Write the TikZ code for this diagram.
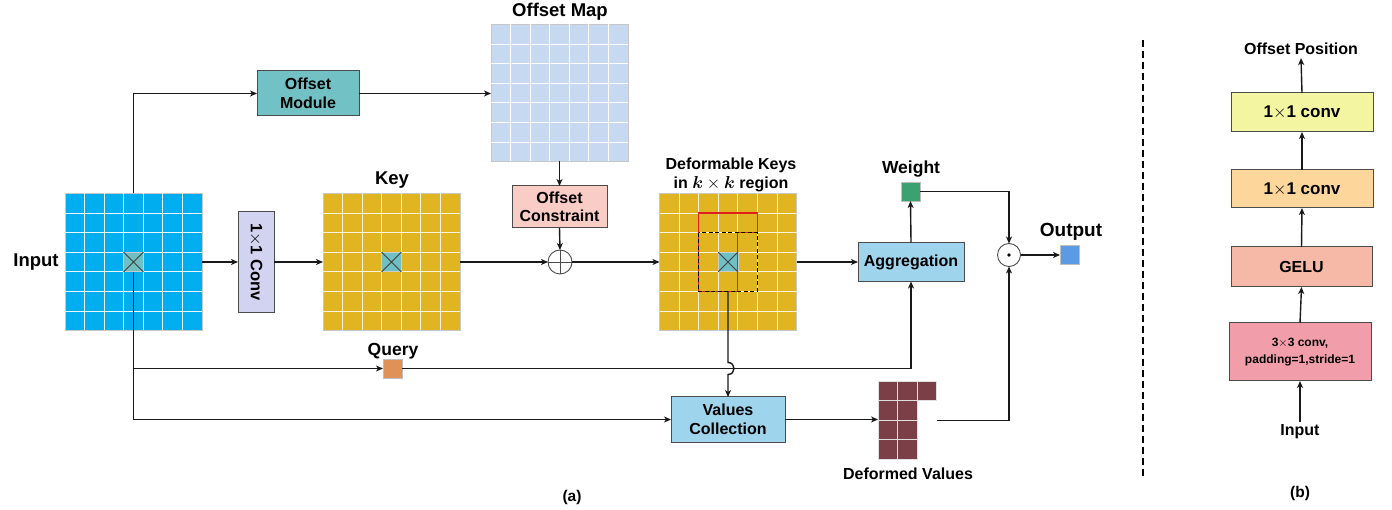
\documentclass[tikz,border=0pt]{standalone}
\usepackage{fontspec}
\setmainfont{Liberation Sans}
\usepackage{amsmath}
\usetikzlibrary{arrows.meta,calc}
\definecolor{cinput}{HTML}{00AEEF}
\definecolor{cteal}{HTML}{6FBFC3}
\definecolor{ckey}{HTML}{E1B421}
\definecolor{cmap}{HTML}{C6D9F1}
\definecolor{cmod}{HTML}{72C1C4}
\definecolor{ccon}{HTML}{F9CDC5}
\definecolor{cconv}{HTML}{D2D2F1}
\definecolor{cagg}{HTML}{9ED4EC}
\definecolor{cwgt}{HTML}{3AA26F}
\definecolor{cqry}{HTML}{DF9158}
\definecolor{cout}{HTML}{5B9BE6}
\definecolor{cdv}{HTML}{7B3F48}
\definecolor{cyone}{HTML}{F3F5A0}
\definecolor{cytwo}{HTML}{FDD69B}
\definecolor{cgelu}{HTML}{F6B9A7}
\definecolor{cpink}{HTML}{F29EAA}
\definecolor{cred}{HTML}{E0201A}
\newcommand{\sevengrid}[2]{%
  \foreach \i in {1,...,6}{%
    \draw[#2, line width=0.8pt] ($(#1.north west)!\i/7!(#1.north east)$) -- ($(#1.south west)!\i/7!(#1.south east)$);
    \draw[#2, line width=0.8pt] ($(#1.north west)!\i/7!(#1.south west)$) -- ($(#1.north east)!\i/7!(#1.south east)$);
  }}
\newcommand{\crosscell}[1]{%
  \draw[black!75, line width=0.8pt] (#1.north west) -- (#1.south east) (#1.north east) -- (#1.south west);}
\begin{document}
\begin{tikzpicture}[x=1pt,y=-1pt,
  conn/.style={line width=1.4pt, black!90},
  arr/.style={conn, -{Stealth[length=7pt,width=6pt,inset=2pt]}},
  gridmap/.style={draw=black!22, line width=0.9pt, minimum width=137pt, minimum height=137pt, inner sep=0pt, outer sep=0pt},
  blk/.style={draw=black!70, line width=1pt, inner sep=0pt, outer sep=0pt, align=center, font=\bfseries\fontsize{16}{18.5}\selectfont},
  lbl/.style={font=\bfseries\fontsize{18.5}{21}\selectfont, inner sep=0pt},
  slbl/.style={font=\bfseries\fontsize{16}{19}\selectfont, inner sep=0pt, align=center},
  cell/.style={minimum size=19.6pt, inner sep=0pt, outer sep=0pt, draw=black!20, line width=0.6pt, fill=cteal},
  sq/.style={minimum size=19pt, inner sep=0pt, outer sep=0pt, draw=black!25, line width=0.6pt},
  opnode/.style={circle, draw=black!70, line width=0.9pt, minimum size=24pt, inner sep=0pt, outer sep=0pt, fill=white},
]
\useasboundingbox (0,0) rectangle (1392,510);

% ---------- nodes (a)
\node[gridmap, fill=cinput] (inp) at (133.5,262) {};
\node[blk, fill=cmod, minimum width=102pt, minimum height=45pt] (omod) at (308,93.5) {Offset\\Module};
\node[gridmap, fill=cmap] (omap) at (559.5,93) {};
\node[blk, fill=ccon, minimum width=95pt, minimum height=42pt] (ocon) at (559.5,207) {Offset\\Constraint};
\node[blk, fill=cconv, minimum width=36pt, minimum height=101pt] (conv) at (256,262) {};
\node[rotate=-90, font=\bfseries\fontsize{16.5}{19}\selectfont, inner sep=0pt] (convt) at (conv.center) {1$\times$1 Conv};
\node[gridmap, fill=ckey] (key) at (391.5,262) {};
\node[opnode] (opl) at (560,262) {};
\node[gridmap, fill=ckey] (dk) at (728,262) {};
\node[blk, fill=cagg, minimum width=106pt, minimum height=39pt] (agg) at (911,262) {Aggregation};
\node[sq, fill=cwgt] (wgt) at (910.5,191.5) {};
\node[opnode, minimum size=23pt] (odot) at (1009,255) {};
\node[sq, fill=cout] (out) at (1069.5,255) {};
\node[sq, fill=cqry] (qry) at (392.5,368.5) {};
\node[blk, fill=cagg, minimum width=114pt, minimum height=45pt] (vcol) at (728,419.5) {Values\\Collection};
\node[minimum width=59pt, minimum height=78.4pt, inner sep=0pt, outer sep=0pt] (dv) at (907.5,420.2) {};

% grids
\sevengrid{inp}{white!92!cinput}
\sevengrid{omap}{white}
\sevengrid{key}{white!85!ckey}
\sevengrid{dk}{white!85!ckey}
\node[cell] (inpc) at (inp.center) {};
\crosscell{inpc}
\node[cell] (keyc) at (key.center) {};
\crosscell{keyc}
\node[cell] (dkc) at (dk.center) {};
\crosscell{dkc}

% deformable region outlines
\draw[cred, line width=1.3pt] (698.64,213.07) -- (757.36,213.07) -- (757.36,232.64) -- (737.79,232.64) -- (737.79,291.36) -- (698.64,291.36) -- cycle;
\draw[black, line width=1.2pt, dash pattern=on 4pt off 2.5pt] (698.64,232.64) rectangle (757.36,291.36);
\coordinate (dkout) at (728,291.36);

% deformed values cells
\foreach \c/\r in {0/0,1/0,2/0,0/1,1/1,0/2,1/2,0/3,1/3}{
  \draw[draw=black!12, fill=cdv, line width=0.8pt] ($(dv.north west)+(\c*19.6,\r*19.6)$) rectangle +(19.6,19.6);
}

% symbols
\draw[black!70, line width=0.8pt] (opl.north) -- (opl.south) (opl.west) -- (opl.east);
\fill[black] (odot.center) circle (1.8pt);

% labels
\node[lbl] (linp) at (36,262) {Input};
\node[lbl] (lkey) at (392,180) {Key};
\node[lbl] (lmap) at (560,12) {Offset Map};
\node[slbl] (ldk) at (731,174.5) {Deformable Keys\\in $\boldsymbol{k}\times\boldsymbol{k}$ region};
\node[lbl, font=\bfseries\fontsize{17.5}{20}\selectfont] (lwgt) at (911,169) {Weight};
\node[lbl, font=\bfseries\fontsize{17.5}{20}\selectfont] (lqry) at (393,351) {Query};
\node[lbl, font=\bfseries\fontsize{19}{21}\selectfont] (lout) at (1071,232) {Output};
\node[slbl] (ldv) at (908,474) {Deformed Values};
\node[slbl, font=\bfseries\fontsize{15.5}{18}\selectfont] (la) at (572,497) {(a)};

% connectors (a)
\draw[arr] (inp.north) -- (inp.north |- omod.west) -- (omod.west);
\draw[arr] (omod.east) -- (omod.east -| omap.west);
\draw[arr] (omap.south) -- (ocon.north);
\draw[arr] (ocon.south) -- (opl.north);
\draw[arr] (inp.east) -- (conv.west);
\draw[arr] (conv.east) -- (key.west);
\draw[arr] (key.east) -- (opl.west);
\draw[arr] (opl.east) -- (dk.west);
\draw[arr] (dk.east) -- (agg.west);
\draw[arr] (agg.north) -- (wgt.south);
\draw[arr] (wgt.east) -- (wgt.east -| odot.north) -- (odot.north);
\draw[arr] (odot.east) -- (out.west);
\draw[arr] (inpc.south) -- (inpc.south |- vcol.west) -- (vcol.west);
\coordinate (qbr) at (inpc.south |- qry.west);
\draw[arr] (qbr) -- (qry.west);
\draw[arr] (qry.east) -- (qry.east -| agg.south) -- (agg.south);
\coordinate (hopc) at (dkout |- qry.east);
\draw[arr] (dkout) -- ($(hopc)+(0,-6)$) .. controls ($(hopc)+(8,-6)$) and ($(hopc)+(8,6)$) .. ($(hopc)+(0,6)$) -- (vcol.north);
\draw[arr] (vcol.east) -- (vcol.east -| dv.west);
\draw[arr] (dv.east) -- (dv.east -| odot.south) -- (odot.south);

% separator
\coordinate (septop) at (1143,40);
\coordinate (sepbot) at (1143,477);
\draw[black, line width=1.5pt, dash pattern=on 7pt off 4pt] (septop) -- (sepbot);

% ---------- panel (b)
\node[slbl] (opos) at (1301,49) {Offset Position};
\node[blk, fill=cyone, minimum width=142pt, minimum height=39pt, font=\bfseries\fontsize{17}{20}\selectfont] (b1) at (1302,112.5) {1$\times$1 conv};
\node[blk, fill=cytwo, minimum width=142pt, minimum height=38pt, font=\bfseries\fontsize{17}{20}\selectfont] (b2) at (1302,189) {1$\times$1 conv};
\node[blk, fill=cgelu, minimum width=141pt, minimum height=40pt] (b3) at (1301.5,267) {GELU};
\node[blk, fill=cpink, minimum width=142pt, minimum height=58pt, font=\bfseries\fontsize{12}{17}\selectfont] (b4) at (1300,352) {3$\times$3 conv,\\padding=1,stride=1};
\node[slbl] (binp) at (1300,432) {Input};
\node[slbl, font=\bfseries\fontsize{15.5}{18}\selectfont] (lb) at (1300,493) {(b)};
\draw[arr] (b1.north) -- ($(opos.south)+(0,3)$);
\draw[arr] (b2.north) -- (b1.south);
\draw[arr] (b3.north) -- (b2.south);
\draw[arr] (b4.north) -- (b3.south);
\draw[arr] ($(binp.north)+(0,-3)$) -- (b4.south);
\end{tikzpicture}
\end{document}
